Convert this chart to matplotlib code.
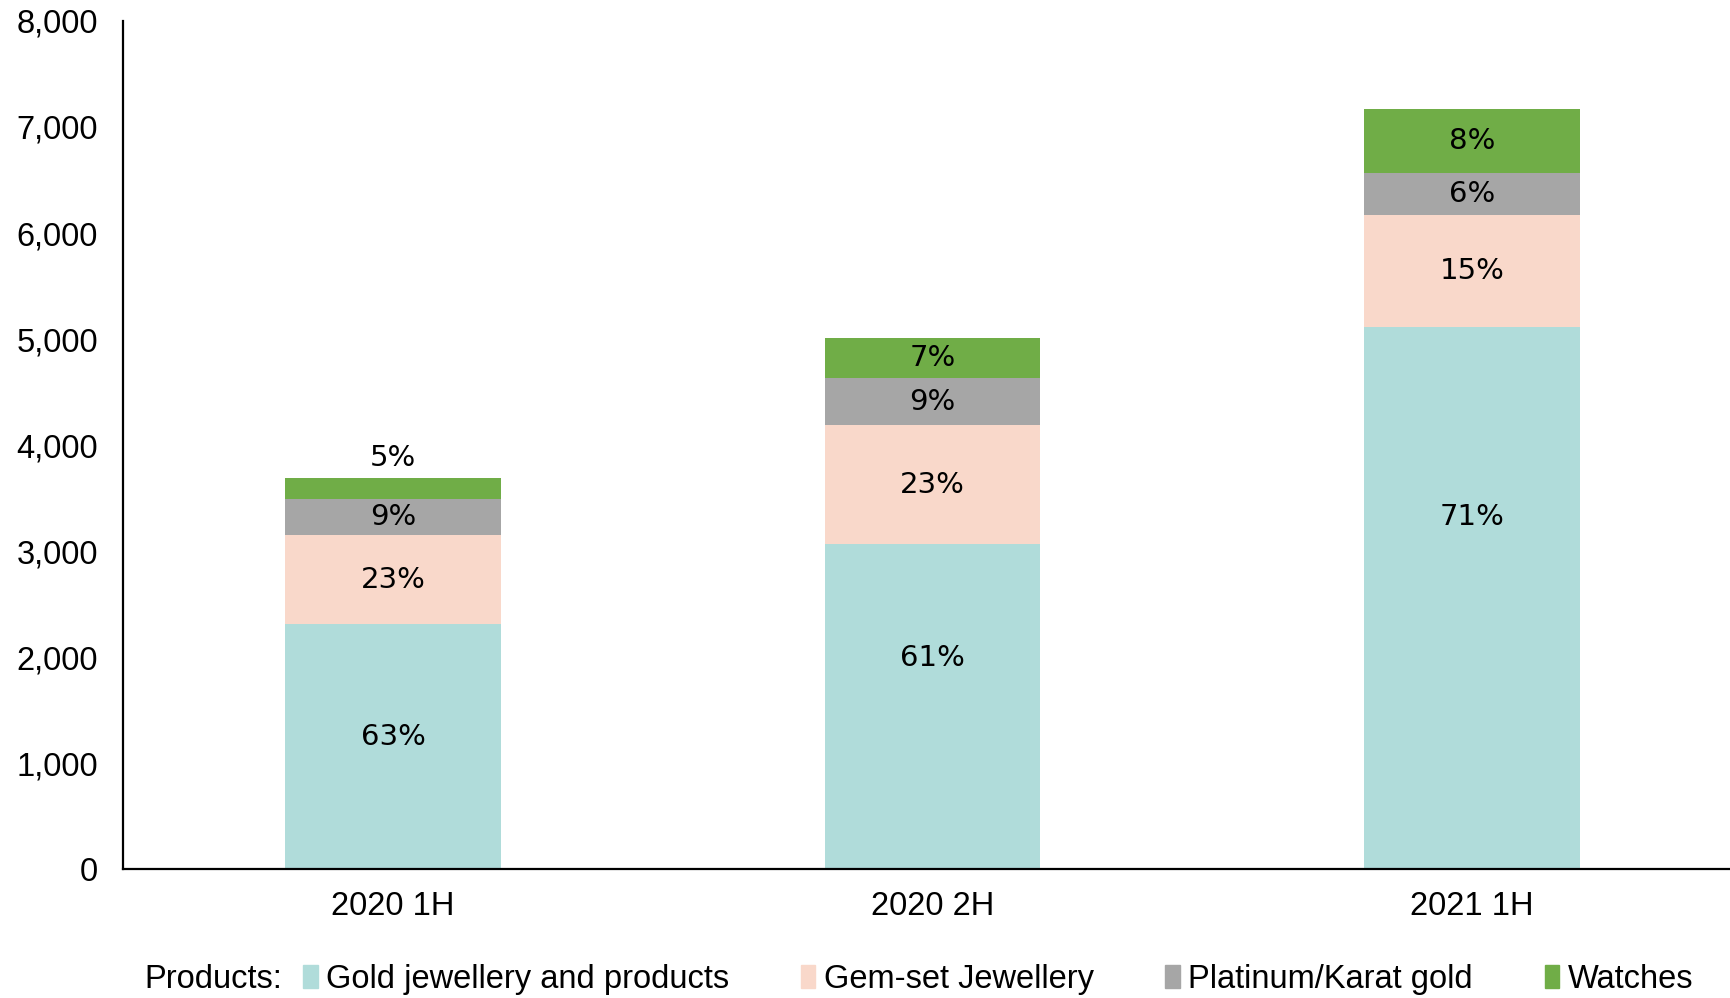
import numpy as np
import matplotlib.pyplot as plt
from matplotlib.patches import Patch

periods = ['2020 1H', '2020 2H', '2021 1H']
products = ['Gold jewellery and products', 'Gem-set Jewellery', 'Platinum/Karat gold', 'Watches']

gold = [2309, 3063, 5115]
gem = [841, 1122, 1052]
platinum = [344, 449, 402]
watches = [198, 377, 601]

gold_pct = ['63%', '61%', '71%']
gem_pct = ['23%', '23%', '15%']
platinum_pct = ['9%', '9%', '6%']
watches_pct = ['5%', '7%', '8%']

colors = ['#B0DCDA', '#F9D8CA', '#A6A6A6', '#70AD47']

plt.rcParams['font.family'] = ['Liberation Sans', 'DejaVu Sans']

fig = plt.figure(figsize=(17.31, 9.98), dpi=100)
ax = fig.add_axes([0.0712, 0.129, 1.0 - 0.0712, 0.979 - 0.129])

x = np.arange(len(periods))
width = 0.40
bottom = np.zeros(len(periods))
series = [gold, gem, platinum, watches]
pcts = [gold_pct, gem_pct, platinum_pct, watches_pct]

# where inside the gold segment the label sits (fraction of segment height)
gold_label_frac = [0.54, 0.65, 0.65]

for k, (vals, lab, col, name) in enumerate(zip(series, pcts, colors, products)):
    vals = np.array(vals, dtype=float)
    ax.bar(x, vals, width, bottom=bottom, color=col, label=name)
    for i in range(len(x)):
        if k == 0:
            y = bottom[i] + vals[i] * gold_label_frac[i]
            va = 'center'
        elif k == 3 and i == 0:
            # small segment: label sits above the bar
            y = bottom[i] + vals[i] + 50
            va = 'bottom'
        else:
            y = bottom[i] + vals[i] / 2
            va = 'center'
        ax.text(x[i], y, lab[i], ha='center', va=va, fontsize=21, family='DejaVu Sans')
    bottom += vals

ax.set_xlim(-0.5, 2.48)
ax.set_ylim(0, 8000)
ax.set_yticks(np.arange(0, 8001, 1000))
ax.set_yticklabels([f'{v:,}' for v in range(0, 8001, 1000)])
ax.set_xticks(x)
ax.set_xticklabels(periods)
ax.tick_params(axis='y', length=0, pad=18, labelsize=23.5)
ax.tick_params(axis='x', length=0, pad=16, labelsize=23.5)

for s in ['top', 'right']:
    ax.spines[s].set_visible(False)
for s in ['left', 'bottom']:
    ax.spines[s].set_linewidth(1.6)
    ax.spines[s].set_color('black')

handles = [Patch(color=c) for c in colors]
fig.text(0.0835, 0.019, 'Products:', fontsize=23.5, va='center', ha='left')
fig.legend(handles, products, loc='center left', bbox_to_anchor=(0.175, 0.019), ncol=4,
           frameon=False, fontsize=23.5, handlelength=0.45, handleheight=0.7,
           handletextpad=0.25, columnspacing=2.2, borderaxespad=0, borderpad=0)

fig.savefig('out.png', dpi=100)
